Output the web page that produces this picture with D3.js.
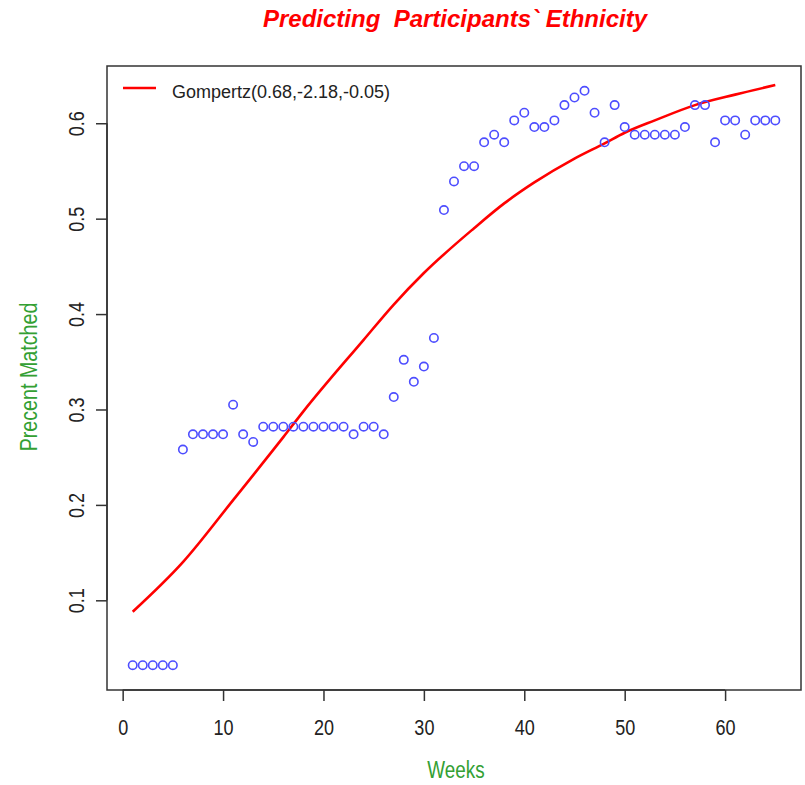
<!DOCTYPE html>
<html>
<head>
<meta charset="utf-8">
<script src="https://cdn.jsdelivr.net/npm/d3@7"></script>
<style>
  body { margin: 0; background: #fff; }
  text { font-family: "Liberation Sans", Arial, sans-serif; }
</style>
</head>
<body>
<svg id="chart" width="805" height="785"></svg>
<script>
// observed share matched per week
const weeks = d3.range(1, 66);
const matched = [
  0.032, 0.032, 0.032, 0.032, 0.032, 0.258, 0.274, 0.274, 0.274, 0.274,
  0.305, 0.274, 0.266, 0.282, 0.282, 0.282, 0.282, 0.282, 0.282, 0.282,
  0.282, 0.282, 0.274, 0.282, 0.282, 0.274, 0.313, 0.352, 0.329, 0.345,
  0.375, 0.509, 0.539, 0.555, 0.555, 0.580, 0.588, 0.580, 0.603, 0.611,
  0.596, 0.596, 0.603, 0.619, 0.627, 0.634, 0.611, 0.580, 0.619, 0.596,
  0.588, 0.588, 0.588, 0.588, 0.588, 0.596, 0.619, 0.619, 0.580, 0.603,
  0.603, 0.588, 0.603, 0.603, 0.603
];

// fitted curve
const fitWeeks = [1, 6, 11, 16, 18, 24, 27, 30, 35, 38, 41, 45, 48, 50, 53, 57, 61, 65];
const fitValues = [0.088, 0.140, 0.205, 0.271, 0.298, 0.373, 0.410, 0.443, 0.490, 0.516,
                   0.538, 0.563, 0.579, 0.590, 0.603, 0.619, 0.630, 0.640];

const xTicks = [0, 10, 20, 30, 40, 50, 60];
const yTicks = [0.1, 0.2, 0.3, 0.4, 0.5, 0.6];
const legendLabel = "Gompertz(0.68,-2.18,-0.05)";

const svg = d3.select("#chart");
const mLeft = 107, mRight = 801, mTop = 66, mBottom = 690;

const x = d3.scaleLinear().domain([-1.56, 67.56]).range([mLeft, mRight]);
const y = d3.scaleLinear().domain([0.006, 0.66]).range([mBottom, mTop]);

const ink = "#333";
const narrow = "scale(0.82,1)";

// x axis
const gx = svg.append("g")
    .attr("transform", `translate(0,${mBottom})`)
    .call(d3.axisBottom(x).tickValues(xTicks).tickSize(11).tickFormat(d3.format("d")));
gx.select(".domain").attr("stroke", ink).attr("stroke-width", 1.5)
    .attr("d", `M${x(0)},0H${x(60)}`);
gx.selectAll(".tick line").attr("stroke", ink).attr("stroke-width", 1.5);
gx.selectAll(".tick text")
    .attr("y", 45).attr("dy", null)
    .attr("transform", narrow)
    .attr("fill", "#222").style("font-size", "22px")
    .style("font-family", "'Liberation Sans', Arial, sans-serif");

// y axis
const gy = svg.append("g")
    .attr("transform", `translate(${mLeft},0)`)
    .call(d3.axisLeft(y).tickValues(yTicks).tickSize(11).tickFormat(d3.format(".1f")));
gy.select(".domain").attr("stroke", ink).attr("stroke-width", 1.5)
    .attr("d", `M0,${y(0.1)}V${y(0.6)}`);
gy.selectAll(".tick line").attr("stroke", ink).attr("stroke-width", 1.5);
gy.selectAll(".tick text")
    .attr("x", null).attr("dy", null)
    .attr("transform", "translate(-23,0) rotate(-90) " + narrow)
    .attr("text-anchor", "middle")
    .attr("fill", "#222").style("font-size", "22px")
    .style("font-family", "'Liberation Sans', Arial, sans-serif");

// plot box
svg.append("rect")
    .attr("x", mLeft).attr("y", mTop)
    .attr("width", mRight - mLeft).attr("height", mBottom - mTop)
    .attr("fill", "none").attr("stroke", ink).attr("stroke-width", 1.5);

// fitted line
const line = d3.line()
    .x((d, i) => x(fitWeeks[i]))
    .y(d => y(d))
    .curve(d3.curveMonotoneX);

svg.append("path")
    .datum(fitValues)
    .attr("d", line)
    .attr("fill", "none")
    .attr("stroke", "#ff0000")
    .attr("stroke-width", 2.6);

// points
svg.selectAll(".pt")
    .data(matched)
    .join("circle")
    .classed("pt", true)
    .attr("cx", (d, i) => x(weeks[i]))
    .attr("cy", d => y(d))
    .attr("r", 4.2)
    .attr("fill", "none")
    .attr("stroke", "#4d4dff")
    .attr("stroke-width", 1.6);

// legend
svg.append("line")
    .attr("x1", 123).attr("x2", 156)
    .attr("y1", 88).attr("y2", 88)
    .attr("stroke", "#ff0000").attr("stroke-width", 2.6);
svg.append("text")
    .attr("x", 172).attr("y", 98)
    .attr("fill", "#222")
    .style("font-size", "18px")
    .text(legendLabel);

// titles
svg.append("text")
    .attr("x", 455).attr("y", 27)
    .attr("text-anchor", "middle")
    .attr("fill", "#ff0000")
    .style("font-size", "24px").style("font-weight", "bold").style("font-style", "italic")
    .style("white-space", "pre")
    .text("Predicting  Participants` Ethnicity");

svg.append("g")
    .attr("transform", `translate(456,778)`)
    .append("text")
    .attr("transform", narrow)
    .attr("text-anchor", "middle")
    .attr("fill", "#33a033")
    .style("font-size", "23px")
    .text("Weeks");

svg.append("g")
    .attr("transform", `translate(37,377) rotate(-90)`)
    .append("text")
    .attr("transform", narrow)
    .attr("text-anchor", "middle")
    .attr("fill", "#33a033")
    .style("font-size", "24px")
    .text("Precent Matched");
</script>
</body>
</html>
